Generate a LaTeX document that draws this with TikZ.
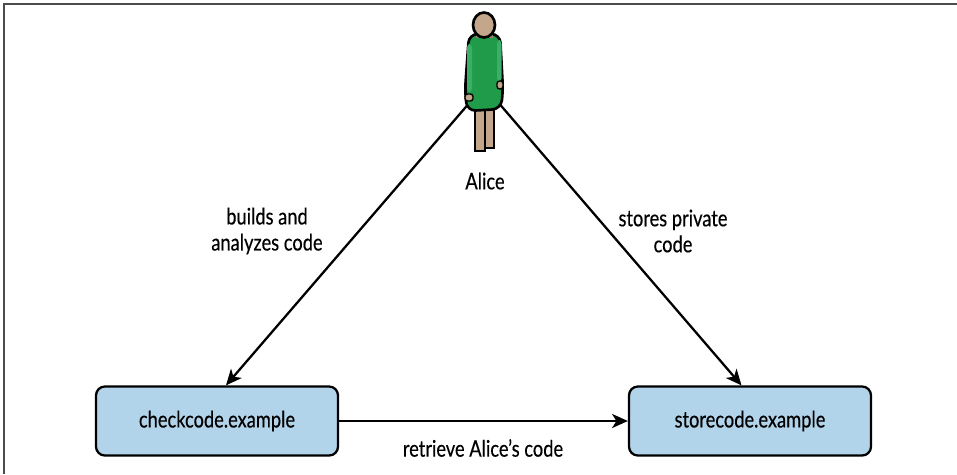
\documentclass[tikz,border=0pt]{standalone}
\usepackage{fontspec}
\setmainfont[FakeStretch=0.8, FakeBold=0.35]{Lato}
\usetikzlibrary{arrows.meta}
\definecolor{siteblue}{HTML}{B2D4EA}
\definecolor{dressgreen}{HTML}{1F9B4A}
\definecolor{sleevegreen}{HTML}{3BAF68}
\definecolor{skintan}{HTML}{C4A78A}
\definecolor{skindark}{HTML}{9C8068}
\tikzset{
	site_node/.style = {
		draw=black,
		fill=siteblue,
		rounded corners=5pt,
		line width=1.3pt,
		minimum width=4.84cm,
		minimum height=1.38cm,
		font=\fontsize{13}{15}\selectfont
	},
	label_node/.style = {
		align=center,
		inner sep=0pt,
		font=\fontsize{13}{14.8}\selectfont
	},
	link/.style = {
		-{Stealth[length=9pt, width=8pt, inset=2.5pt]},
		line width=1.3pt
	},
	outline/.style = {
		draw=black,
		line width=1.5pt
	},
}
\begin{document}
\begin{tikzpicture}[x=0.02cm, y=-0.02cm]
\useasboundingbox (0,0) rectangle (957,474);
% frame edge
\draw[black!70, line width=1.4pt] (4,474) -- (4,4) -- (957,4);

% the two sites
\node [site_node] (check) at (217,421) {checkcode.example};
\node [site_node] (store) at (750,421) {storecode.example};

% where the links leave Alice
\coordinate (alice_l) at (471,101);
\coordinate (alice_r) at (497,101);

\draw [link] (alice_l) -- ([xshift=0.18cm]check.north);
\draw [link] (alice_r) -- ([xshift=-0.17cm]store.north);
\draw [link] (check.east) -- (store.west);

% Alice
\draw [outline, fill=skintan] (475,106) rectangle (485,151);
\draw [outline, fill=skintan] (485,106) rectangle (494,148);
\draw [outline, fill=dressgreen, rounded corners=5pt]
	(469,34) -- (500,34) -- (503,90) -- (501,109) -- (467,111) -- (465,90) -- cycle;
\fill [sleevegreen, rounded corners=2pt] (467,44) rectangle (472,92);
\fill [sleevegreen, rounded corners=2pt] (497,40) rectangle (501.5,82);
\fill [skindark] (476,33) rectangle (493,38);
\draw [outline, fill=skintan] (484,25) ellipse (11 and 12.5);
\draw [line width=0.8pt, fill=skintan, rounded corners=1.5pt] (465,94) rectangle (473,101);
\draw [line width=0.8pt, fill=skintan, rounded corners=1.5pt] (497,81) rectangle (503,89);
\node [label_node] (alice) at (485,181) {Alice};

% edge labels
\node [label_node] (builds) at (267,231) {builds and\\analyzes code};
\node [label_node] (stores) at (673,231) {stores private\\code};
\node [label_node] (retrieve) at (483,448) {retrieve Alice’s code};
\end{tikzpicture}
\end{document}
